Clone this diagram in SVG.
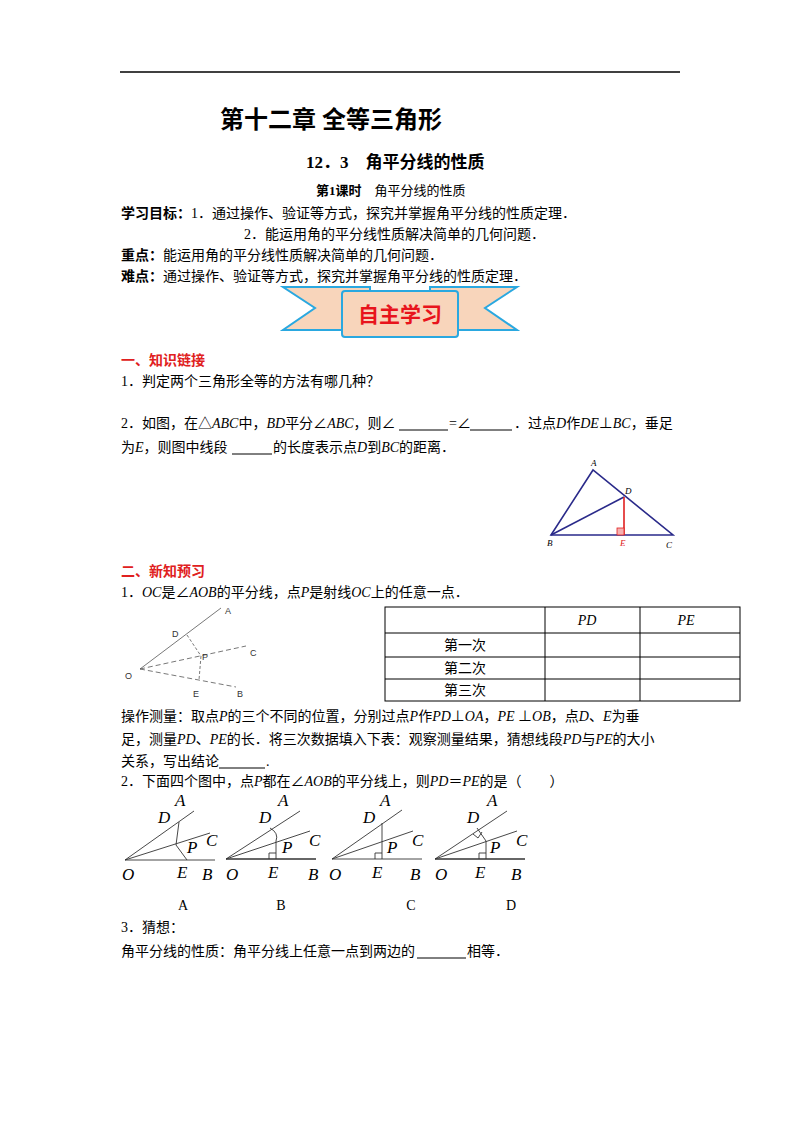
<svg xmlns="http://www.w3.org/2000/svg" width="800" height="1132" viewBox="0 0 800 1132">
<style>
text{font-family:"Liberation Serif","Noto Sans CJK SC",serif;font-size:14px;fill:#000}
.b{font-weight:bold}
.i{font-style:italic}
.r{fill:#e02020;font-weight:bold}
.ln{stroke:#000;stroke-width:1;fill:none}
.g{stroke:#333;stroke-width:0.9;fill:none}
.lab{font-family:"Liberation Serif",serif;font-style:italic;font-size:17px}
.sl{font-family:"Liberation Sans",sans-serif;font-size:9px;fill:#333}
</style>
<rect width="800" height="1132" fill="#fff"/>
<line x1="120" y1="72" x2="680" y2="72" stroke="#000" stroke-width="1.5"/>
<text x="220" y="128" class="b" style="font-size:24px">第十二章  全等三角形</text>
<text x="306" y="168" class="b" style="font-size:17px">12．3　角平分线的性质</text>
<text x="316" y="195" style="font-size:13px"><tspan class="b">第1课时</tspan>　角平分线的性质</text>
<text x="121" y="218"><tspan class="b">学习目标：</tspan>1．通过操作、验证等方式，探究并掌握角平分线的性质定理．</text>
<text x="244" y="239">2．能运用角的平分线性质解决简单的几何问题．</text>
<text x="121" y="260"><tspan class="b">重点：</tspan>能运用角的平分线性质解决简单的几何问题．</text>
<text x="121" y="281"><tspan class="b">难点：</tspan>通过操作、验证等方式，探究并掌握角平分线的性质定理．</text>
<g id="banner">
<polygon points="283,287 370,287 370,330 283,330 315,308" fill="#f8d5bb" stroke="#2aa8e0" stroke-width="2"/>
<polygon points="517,287 430,287 430,330 517,330 485,308" fill="#f8d5bb" stroke="#2aa8e0" stroke-width="2"/>
<rect x="342" y="291" width="116" height="46" rx="3" fill="#f8d5bb" stroke="#2aa8e0" stroke-width="2"/>
<text x="400" y="322" text-anchor="middle" style="font-family:'Noto Sans CJK SC',sans-serif;font-size:21px;font-weight:bold;fill:#e8141c">自主学习</text>
</g>
<text x="121" y="365" class="r">一、知识链接</text>
<text x="121" y="386">1．判定两个三角形全等的方法有哪几种？</text>
<text x="121" y="428">2．如图，在△<tspan class="i">ABC</tspan>中，<tspan class="i">BD</tspan>平分∠<tspan class="i">ABC</tspan>，则∠</text>
<line x1="399" y1="430" x2="448" y2="430" class="ln"/>
<text x="449" y="428">=∠</text>
<line x1="470" y1="430" x2="512" y2="430" class="ln"/>
<text x="514" y="428">．过点<tspan class="i">D</tspan>作<tspan class="i">DE</tspan>⊥<tspan class="i">BC</tspan>，垂足</text>
<text x="121" y="452">为<tspan class="i">E</tspan>，则图中线段</text>
<line x1="232" y1="454" x2="272" y2="454" class="ln"/>
<text x="273" y="452">的长度表示点<tspan class="i">D</tspan>到<tspan class="i">BC</tspan>的距离．</text>
<g id="tri">
<polygon points="593,470 551,535 673,535" fill="none" stroke="#2a2a8a" stroke-width="1.6"/>
<line x1="551" y1="535" x2="624" y2="497" stroke="#2a2a8a" stroke-width="1.6"/>
<line x1="624" y1="497" x2="624" y2="535" stroke="#e02020" stroke-width="1.6"/>
<rect x="617" y="528" width="7" height="7" fill="#f5b0b0" stroke="#e02020" stroke-width="0.8"/>
<text x="591" y="466" class="i" style="font-size:9px">A</text>
<text x="625" y="494" class="i" style="font-size:9px">D</text>
<text x="547" y="546" class="i" style="font-size:9px">B</text>
<text x="620" y="546" class="i" style="font-size:9px;fill:#e02020">E</text>
<text x="666" y="548" class="i" style="font-size:9px">C</text>
</g>
<text x="121" y="576" class="r">二、新知预习</text>
<text x="121" y="597">1．<tspan class="i">OC</tspan>是∠<tspan class="i">AOB</tspan>的平分线，点<tspan class="i">P</tspan>是射线<tspan class="i">OC</tspan>上的任意一点．</text>
<g id="fig1" stroke="#555" stroke-width="0.8" fill="none">
<line x1="140" y1="669" x2="221" y2="608"/>
<line x1="140" y1="669" x2="246" y2="646" stroke-dasharray="5,3"/>
<line x1="140" y1="669" x2="236" y2="687" stroke-dasharray="5,3"/>
<line x1="187" y1="635" x2="201" y2="656" stroke-dasharray="3,2"/>
<line x1="201" y1="656" x2="199" y2="680" stroke-dasharray="3,2"/>
</g>
<text x="225" y="614" class="sl">A</text>
<text x="172" y="637" class="sl">D</text>
<text x="202" y="660" class="sl">P</text>
<text x="250" y="656" class="sl">C</text>
<text x="125" y="679" class="sl">O</text>
<text x="193" y="697" class="sl">E</text>
<text x="237" y="697" class="sl">B</text>
<g id="table" stroke="#000" stroke-width="1" fill="none">
<rect x="385" y="607" width="355" height="94"/>
<line x1="385" y1="633" x2="740" y2="633"/>
<line x1="385" y1="657" x2="740" y2="657"/>
<line x1="385" y1="679" x2="740" y2="679"/>
<line x1="545" y1="607" x2="545" y2="701"/>
<line x1="640" y1="607" x2="640" y2="701"/>
</g>
<text x="587" y="625" class="i" text-anchor="middle">PD</text>
<text x="686" y="625" class="i" text-anchor="middle">PE</text>
<text x="465" y="650" text-anchor="middle">第一次</text>
<text x="465" y="673" text-anchor="middle">第二次</text>
<text x="465" y="695" text-anchor="middle">第三次</text>
<text x="121" y="721">操作测量：取点<tspan class="i">P</tspan>的三个不同的位置，分别过点<tspan class="i">P</tspan>作<tspan class="i">PD</tspan>⊥<tspan class="i">OA</tspan>，<tspan class="i">PE</tspan> ⊥<tspan class="i">OB</tspan>，点<tspan class="i">D</tspan>、<tspan class="i">E</tspan>为垂</text>
<text x="121" y="744">足，测量<tspan class="i">PD</tspan>、<tspan class="i">PE</tspan>的长．将三次数据填入下表：观察测量结果，猜想线段<tspan class="i">PD</tspan>与<tspan class="i">PE</tspan>的大小</text>
<text x="121" y="766">关系，写出结论</text>
<line x1="219" y1="768" x2="265" y2="768" class="ln"/>
<text x="266" y="766">.</text>
<text x="121" y="786">2．下面四个图中，点<tspan class="i">P</tspan>都在∠<tspan class="i">AOB</tspan>的平分线上，则<tspan class="i">PD</tspan>＝<tspan class="i">PE</tspan>的是（　　）</text>
<g id="figA" class="g">
<line x1="125" y1="860" x2="215" y2="860"/><line x1="125" y1="860" x2="194" y2="811"/><line x1="125" y1="860" x2="210" y2="833"/>
<polyline points="179,822 176,845 187,860"/>
</g>
<g id="figB" class="g">
<line x1="226" y1="859" x2="316" y2="859" stroke-width="1.4"/><line x1="226" y1="859" x2="300" y2="811"/><line x1="226" y1="859" x2="310" y2="831"/>
<path d="M270,828 Q279,833 276,841"/><line x1="276" y1="841" x2="276" y2="859"/>
<polyline points="269,859 269,853 276,853"/>
</g>
<g id="figC" class="g">
<line x1="332" y1="859" x2="422" y2="859"/><line x1="332" y1="859" x2="402" y2="810"/><line x1="332" y1="859" x2="413" y2="831"/>
<line x1="382" y1="823" x2="382" y2="859"/>
<polyline points="375,859 375,853 382,853"/>
</g>
<g id="figD" class="g">
<line x1="435" y1="859" x2="525" y2="859" stroke-width="1.4"/><line x1="435" y1="859" x2="507" y2="811"/><line x1="435" y1="859" x2="517" y2="831"/>
<polyline points="477,828 486,841 486,859"/>
<polyline points="473,834 478,838 482,832"/>
<polyline points="479,859 479,853 486,853"/>
</g>
<g class="lab">
<text x="175" y="806" class="lab">A</text><text x="158" y="823" class="lab">D</text><text x="206" y="846" class="lab">C</text><text x="187" y="853" class="lab">P</text><text x="122" y="880" class="lab">O</text><text x="177" y="878" class="lab">E</text><text x="202" y="880" class="lab">B</text>
<text x="278" y="806" class="lab">A</text><text x="259" y="823" class="lab">D</text><text x="309" y="846" class="lab">C</text><text x="282" y="853" class="lab">P</text><text x="226" y="880" class="lab">O</text><text x="268" y="878" class="lab">E</text><text x="308" y="880" class="lab">B</text>
<text x="380" y="806" class="lab">A</text><text x="363" y="823" class="lab">D</text><text x="412" y="846" class="lab">C</text><text x="387" y="853" class="lab">P</text><text x="329" y="880" class="lab">O</text><text x="372" y="878" class="lab">E</text><text x="410" y="880" class="lab">B</text>
<text x="487" y="806" class="lab">A</text><text x="467" y="823" class="lab">D</text><text x="516" y="846" class="lab">C</text><text x="490" y="853" class="lab">P</text><text x="435" y="880" class="lab">O</text><text x="475" y="878" class="lab">E</text><text x="511" y="880" class="lab">B</text>
</g>
<text x="183" y="910" text-anchor="middle">A</text>
<text x="281" y="910" text-anchor="middle">B</text>
<text x="411" y="910" text-anchor="middle">C</text>
<text x="511" y="910" text-anchor="middle">D</text>
<text x="121" y="932">3．猜想：</text>
<text x="121" y="956">角平分线的性质：角平分线上任意一点到两边的</text>
<line x1="417" y1="958" x2="466" y2="958" class="ln"/>
<text x="467" y="956">相等．</text>
</svg>
